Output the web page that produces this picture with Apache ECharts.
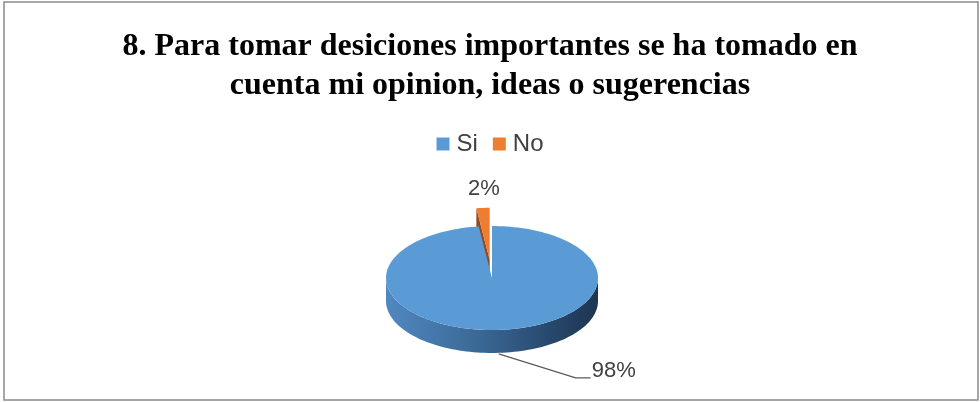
<!DOCTYPE html>
<html>
<head>
<meta charset="utf-8">
<script src="https://cdn.jsdelivr.net/npm/echarts@6/dist/echarts.min.js"></script>
<style>
  html, body { margin: 0; padding: 0; background: #fff; }
  #chart { width: 980px; height: 402px; }
</style>
</head>
<body>
<div id="chart"></div>
<script>
// Survey answers for question 8
const categories = ['Si', 'No'];
const values = [98, 2];
const percentLabels = ['98%', '2%'];

const chartTitle = '8. Para tomar desiciones importantes se ha tomado en\ncuenta mi opinion, ideas o sugerencias';

// Look of the tilted pie
const topColors = { Si: '#5b9bd5', No: '#ed7d31' };
const cutColors = { Si: '#2f5578', No: '#96491a' };
const PIE = { cx: 492, cy: 278, rx: 106, ry: 52, depth: 23 };
const EXPLODE = { No: 0.35 };
const LABEL_FONT = '22px "Liberation Sans", Arial, sans-serif';

const total = values.reduce((a, b) => a + b, 0);

// angle is measured clockwise from 12 o'clock, in degrees
function rim(angleDeg, ox, oy, down) {
  const a = angleDeg * Math.PI / 180;
  return [PIE.cx + ox + PIE.rx * Math.sin(a), PIE.cy + oy - PIE.ry * Math.cos(a) + (down || 0)];
}
function arcPoints(a0, a1, ox, oy, down) {
  const pts = [];
  const n = Math.max(2, Math.ceil(Math.abs(a1 - a0) / 2));
  for (let i = 0; i <= n; i++) pts.push(rim(a0 + (a1 - a0) * i / n, ox, oy, down));
  return pts;
}

function makeRenderer(idx) {
  return function (params, api) {
    const name = categories[idx];
    const v = api.value(0);
    let before = 0;
    for (let i = 0; i < idx; i++) before += values[i];
    const a0 = before / total * 360;
    const a1 = (before + v) / total * 360;
    const mid = (a0 + a1) / 2;
    const e = EXPLODE[name] || 0;
    const mr = mid * Math.PI / 180;
    const ox = PIE.rx * e * Math.sin(mr);
    const oy = -PIE.ry * e * Math.cos(mr);
    const c = [PIE.cx + ox, PIE.cy + oy];
    const children = [];

    // cut face along the starting edge, seen on the slice behind
    if (e > 0) {
      const r0 = rim(a0, ox, oy);
      children.push({
        type: 'polygon',
        shape: { points: [c, r0, [r0[0], r0[1] + PIE.depth], [c[0], c[1] + PIE.depth]] },
        style: { fill: cutColors[name] }
      });
    }

    // outer wall, front half only
    const w0 = Math.max(a0, 90), w1 = Math.min(a1, 270);
    if (w1 > w0) {
      const top = arcPoints(w0, w1, ox, oy, 0);
      const bottom = arcPoints(w1, w0, ox, oy, PIE.depth);
      children.push({
        type: 'polygon',
        shape: { points: top.concat(bottom) },
        style: {
          fill: new echarts.graphic.LinearGradient(0, 0, 1, 0, [
            { offset: 0, color: '#5088c2' },
            { offset: 0.45, color: '#3a6794' },
            { offset: 0.8, color: '#26466a' },
            { offset: 1, color: '#1e354f' }
          ])
        }
      });
    }

    // top face
    children.push({
      type: 'polygon',
      shape: { points: [c].concat(arcPoints(a0, a1, ox, oy, 0)) },
      style: { fill: topColors[name] }
    });

    // value label
    if (mid > 90 && mid < 270) {
      const p = rim(mid, ox, oy, PIE.depth);
      p[1] += 1;
      const bend = [p[0] + 77, p[1] + 24];
      const end = [bend[0] + 15, bend[1]];
      children.push({
        type: 'polyline',
        shape: { points: [p, bend, end] },
        style: { stroke: '#595959', lineWidth: 1.2, fill: null }
      });
      children.push({
        type: 'text',
        style: { text: percentLabels[idx], x: end[0] + 1, y: end[1] - 7, font: LABEL_FONT, fill: '#404040', align: 'left', verticalAlign: 'middle' }
      });
    } else {
      const p = rim(mid, ox, oy, 0);
      children.push({
        type: 'text',
        style: { text: percentLabels[idx], x: p[0] + 1, y: p[1] - 19, font: LABEL_FONT, fill: '#404040', align: 'center', verticalAlign: 'middle' }
      });
    }

    return { type: 'group', children: children };
  };
}

const chart = echarts.init(document.getElementById('chart'), null, { renderer: 'canvas' });

const series = categories.map((name, i) => ({
  type: 'custom',
  name: name,
  coordinateSystem: 'none',
  data: [[values[i]]],
  itemStyle: { color: topColors[name] },
  z: name === 'Si' ? 3 : 2,
  silent: true,
  renderItem: makeRenderer(i)
}));

chart.setOption({
  animation: false,
  backgroundColor: '#ffffff',
  title: {
    text: chartTitle,
    left: 'center',
    top: 22,
    textStyle: {
      fontFamily: '"Liberation Serif", "Times New Roman", serif',
      fontWeight: 'bold',
      fontSize: 32,
      lineHeight: 39,
      color: '#000000'
    }
  },
  legend: {
    data: categories,
    top: 127,
    left: 'center',
    icon: 'rect',
    itemWidth: 13,
    itemHeight: 13,
    itemGap: 15,
    textStyle: { fontFamily: '"Liberation Sans", Arial, sans-serif', fontSize: 24, color: '#404040', padding: [0, 0, 0, 2] }
  },
  graphic: [{
    type: 'rect',
    shape: { x: 4, y: 2, width: 974, height: 398 },
    style: { fill: null, stroke: '#8a8a8a', lineWidth: 1.5 },
    silent: true,
    z: -1
  }],
  series: series
});
</script>
</body>
</html>
